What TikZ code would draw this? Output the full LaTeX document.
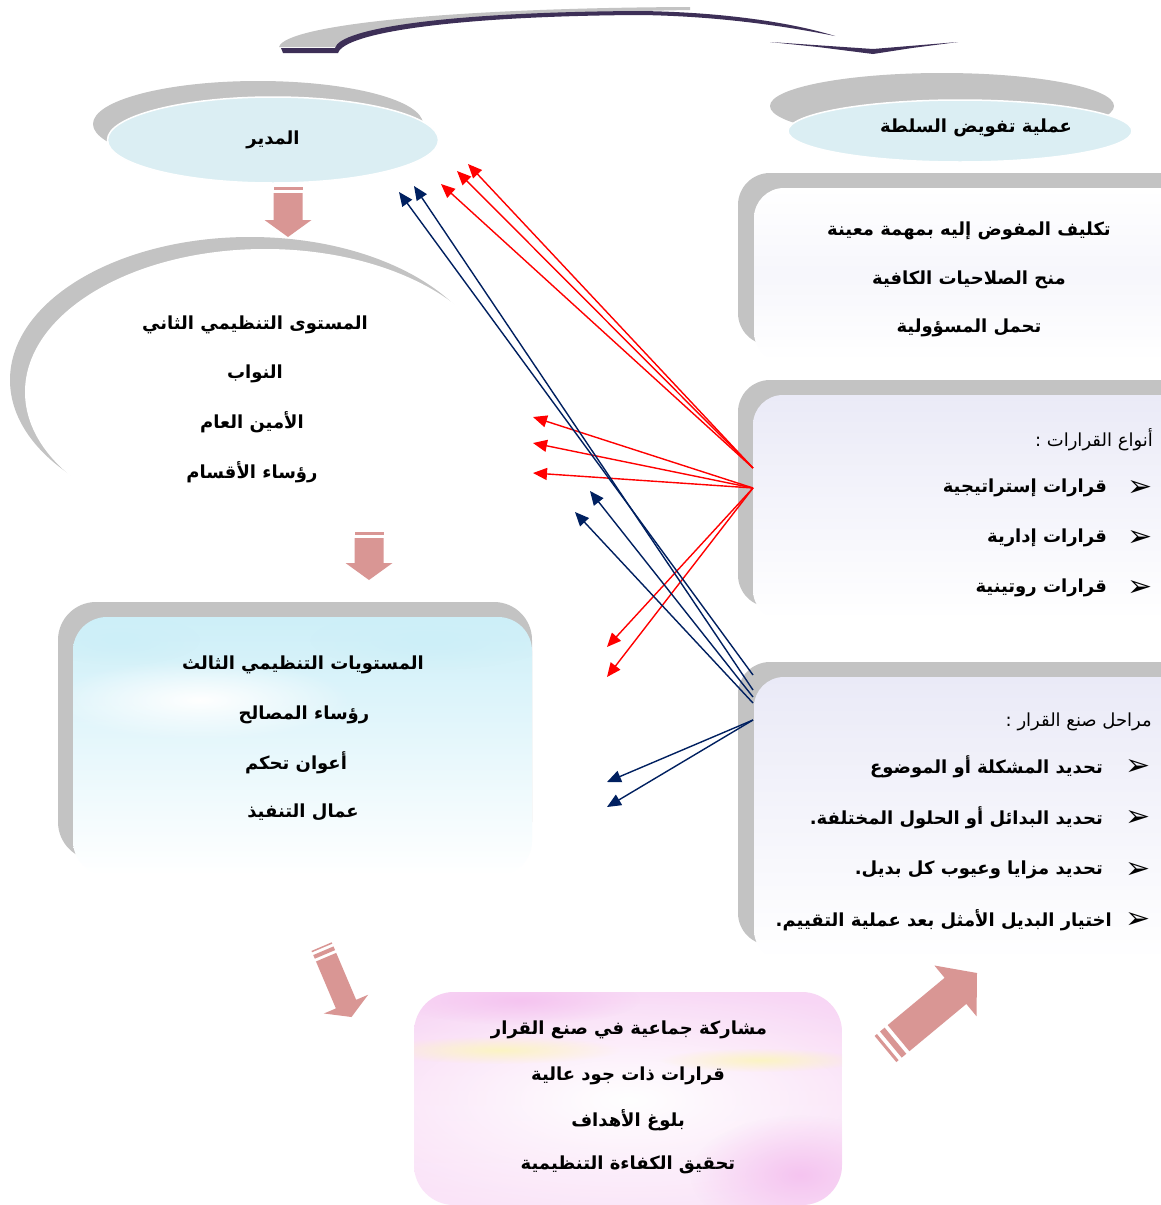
\documentclass[tikz,border=0pt]{standalone}
\usepackage{fontspec}
\usetikzlibrary{shapes.geometric,arrows.meta,fadings}
\TeXXeTstate=1
\newfontfamily\arfont[Script=Arabic]{DejaVu Sans}
\newfontfamily\symfont{DejaVu Sans}
\definecolor{ellblue}{HTML}{DBEEF3}
\definecolor{shgray}{HTML}{C3C3C3}
\definecolor{pinkarrow}{HTML}{D99694}
\definecolor{topdark}{HTML}{3D2F57}
\definecolor{navyc}{HTML}{002060}
\definecolor{lavtint}{HTML}{EAEAF7}
\definecolor{skytint}{HTML}{CDEFF8}
\definecolor{pinktint}{HTML}{F5C4F0}
\definecolor{yellowtint}{HTML}{FCF4C4}
\tikzfading[name=softblob, inner color=transparent!0, outer color=transparent!100]
\begin{document}
\begin{tikzpicture}[x=1pt,y=-1pt,
  txt/.style={font=\arfont\bfseries\fontsize{18pt}{21pt}\selectfont, inner sep=0pt},
  hd/.style={font=\arfont\fontsize{18pt}{21pt}\selectfont, inner sep=0pt, anchor=east},
  itm/.style={txt, anchor=east},
  bul/.style={font=\symfont\fontsize{30pt}{32pt}\selectfont, inner sep=0pt},
  redc/.style={draw=red, line width=1.4pt, -{Triangle[length=14pt,width=12pt]}},
  navc/.style={draw=navyc, line width=1.4pt, -{Triangle[length=14pt,width=12pt]}},
  blk/.style={fill=pinkarrow},
  shd/.style={fill=shgray},
]
\useasboundingbox (0,0) rectangle (1161,1205);
\fill[white] (0,0) rectangle (1161,1205);

% ---------- top curved arrow ----------
\fill[shgray] (279,47) .. controls (285,25) and (450,8) .. (690,7)
   -- (690,10) .. controls (460,14) and (345,26) .. (337,47) -- cycle;
\fill[topdark] (281,48) -- (335,48) .. controls (340,28) and (450,12) .. (640,11)
   .. controls (720,12) and (790,22) .. (835,36)
   .. controls (790,27) and (720,16) .. (640,15)
   .. controls (460,16) and (345,32) .. (338,53) -- (283,53) -- cycle;
\fill[topdark] (770,42) -- (873,49) -- (958,42) -- (912,48) -- (873,54) -- (818,47) -- cycle;

% ---------- ellipses ----------
\fill[shd] (258,124) ellipse [x radius=165, y radius=43];
\node[ellipse, fill=ellblue, draw=white, line width=1.5pt, minimum width=331pt,
      minimum height=86pt, txt] (mudir) at (273,140) {\beginR المدير\endR};

\fill[shd] (942,106) ellipse [x radius=172, y radius=33];
\node[ellipse, fill=ellblue, draw=white, line width=1.5pt, minimum width=344pt,
      minimum height=62pt, txt] (tafwid) at (960,131) {};
\node[txt] (tafwidtxt) at (976,128) {\beginR عملية تفويض السلطة\endR};

% ---------- second level crescent ----------
\fill[shd] (250,380) ellipse [x radius=240, y radius=143];
\fill[white] (265,392) ellipse [x radius=240, y radius=143];
\node[txt] (l2a) at (255,325) {\beginR المستوى التنظيمي الثاني\endR};
\node[txt] (l2b) at (255,374) {\beginR النواب\endR};
\node[txt] (l2c) at (252,422) {\beginR الأمين العام\endR};
\node[txt] (l2d) at (252,472) {\beginR رؤساء الأقسام\endR};

% ---------- right box 1 ----------
\fill[shd, rounded corners=32pt] (738,173) rectangle (1200,345);
\shade[top color=white, bottom color=white, middle color=lavtint!40, rounded corners=30pt] (754,188) rectangle (1200,362);
\node[txt] (d1) at (969,231) {\beginR تكليف المفوض إليه بمهمة معينة\endR};
\node[txt] (d2) at (969,280) {\beginR منح الصلاحيات الكافية\endR};
\node[txt] (d3) at (969,328) {\beginR تحمل المسؤولية\endR};

% ---------- right box 2 ----------
\fill[shd, rounded corners=32pt] (738,380) rectangle (1200,607);
\shade[top color=lavtint, bottom color=white, rounded corners=30pt] (753,395) rectangle (1200,620);
\node[hd] (t0) at (1153,440) {\beginR أنواع القرارات :\endR};
\node[itm] (t1) at (1107,488) {\beginR قرارات إستراتيجية\endR};
\node[itm] (t2) at (1107,538) {\beginR قرارات إدارية\endR};
\node[itm] (t3) at (1107,588) {\beginR قرارات روتينية\endR};
\node[bul] (tb1) at (1140,488) {➢};
\node[bul] (tb2) at (1140,538) {➢};
\node[bul] (tb3) at (1140,588) {➢};

% ---------- right box 3 ----------
\fill[shd, rounded corners=32pt] (738,662) rectangle (1200,945);
\shade[top color=lavtint, bottom color=white, rounded corners=30pt] (754,677) rectangle (1200,960);
\node[hd] (s0) at (1152,722) {\beginR مراحل صنع القرار :\endR};
\node[itm] (s1) at (1103,767) {\beginR تحديد المشكلة أو الموضوع\endR};
\node[itm] (s2) at (1103,818) {\beginR تحديد البدائل أو الحلول المختلفة.\endR};
\node[itm] (s3) at (1103,870) {\beginR تحديد مزايا وعيوب كل بديل.\endR};
\node[itm] (s4) at (1112,920) {\beginR اختيار البديل الأمثل بعد عملية التقييم.\endR};
\node[bul] (sb1) at (1138,767) {➢};
\node[bul] (sb2) at (1138,818) {➢};
\node[bul] (sb3) at (1138,870) {➢};
\node[bul] (sb4) at (1138,920) {➢};

% ---------- third level box ----------
\fill[shd, rounded corners=38pt] (58,602) rectangle (532,860);
\shade[top color=skytint, bottom color=white, rounded corners=34pt] (73,617) rectangle (532,875);
\begin{scope}
  \clip[rounded corners=34pt] (73,617) rectangle (532,875);
  \fill[white, path fading=softblob] (200,700) ellipse [x radius=150, y radius=40];
  \fill[skytint, path fading=softblob] (430,640) ellipse [x radius=120, y radius=30];
  \fill[skytint, path fading=softblob] (120,640) ellipse [x radius=80, y radius=25];
\end{scope}
\node[txt] (l3a) at (303,665) {\beginR المستويات التنظيمي الثالث\endR};
\node[txt] (l3b) at (304,715) {\beginR رؤساء المصالح\endR};
\node[txt] (l3c) at (296,763) {\beginR أعوان تحكم\endR};
\node[txt] (l3d) at (303,812) {\beginR عمال التنفيذ\endR};

% ---------- results box ----------
\begin{scope}
  \clip[rounded corners=40pt] (414,992) -- (842,992) -- (842,1205) -- (414,1205) -- cycle;
  \fill[white] (414,992) rectangle (842,1205);
  \shade[top color=pinktint!70, middle color=yellowtint!80, bottom color=pinktint!45] (414,992) rectangle (842,1205);
  \fill[white, path fading=softblob] (628,1100) ellipse [x radius=320, y radius=120];
  \fill[pinktint, path fading=softblob] (800,1175) ellipse [x radius=110, y radius=60];
  \fill[pinktint, path fading=softblob] (520,1000) ellipse [x radius=120, y radius=25];
  \fill[yellowtint, path fading=softblob] (500,1050) ellipse [x radius=120, y radius=14];
  \fill[yellowtint, path fading=softblob] (760,1060) ellipse [x radius=100, y radius=12];
\end{scope}
\node[txt] (r1) at (629,1030) {\beginR مشاركة جماعية في صنع القرار\endR};
\node[txt] (r2) at (628,1076) {\beginR قرارات ذات جود عالية\endR};
\node[txt] (r3) at (628,1120) {\beginR بلوغ الأهداف\endR};
\node[txt] (r4) at (628,1165) {\beginR تحقيق الكفاءة التنظيمية\endR};

% ---------- block arrows ----------
\begin{scope}[shift={(288,237)}, rotate=-90]
  \fill[blk] (0,0) -- (-17,23.5) -- (-17,14.5) -- (-44,14.5) -- (-44,-14.5) -- (-17,-14.5) -- (-17,-23.5) -- cycle;
  \fill[blk] (-47,14.5) rectangle (-50,-14.5);
\end{scope}
\begin{scope}[shift={(369,580)}, rotate=-90]
  \fill[blk] (0,0) -- (-17,23.5) -- (-17,14.5) -- (-42,14.5) -- (-42,-14.5) -- (-17,-14.5) -- (-17,-23.5) -- cycle;
  \fill[blk] (-45,14.5) rectangle (-48,-14.5);
\end{scope}
\begin{scope}[shift={(351.5,1017)}, rotate=-67]
  \fill[blk] (0,0) -- (-14,24) -- (-14,11) -- (-65,11) -- (-65,-11) -- (-14,-11) -- (-14,-24) -- cycle;
  \fill[blk] (-68,11) rectangle (-72,-11);
  \fill[blk] (-75,11) rectangle (-76.5,-11);
\end{scope}
\begin{scope}[shift={(977,973)}, rotate=39.7]
  \fill[blk] (0,0) -- (-28,33) -- (-28,17) -- (-102,17) -- (-102,-17) -- (-28,-17) -- (-28,-33) -- cycle;
  \fill[blk] (-106,17) rectangle (-112,-17);
  \fill[blk] (-116,17) rectangle (-119,-17);
\end{scope}

% ---------- connectors ----------
\coordinate (rA) at (753,468);
\coordinate (rB) at (753,488);
\coordinate (nA) at (753,675);
\coordinate (nB) at (753,690);
\coordinate (nC) at (753,697);
\coordinate (nD) at (753,703);
\coordinate (nE) at (753,720);
\coordinate (tm1) at (468,164);
\coordinate (tm2) at (457,171);
\coordinate (tm3) at (441,184);
\coordinate (tl1) at (533,417);
\coordinate (tl2) at (533,443);
\coordinate (tl3) at (533,473);
\coordinate (td1) at (607,647);
\coordinate (td2) at (607,677);
\coordinate (tn1) at (399,192);
\coordinate (tn2) at (414,186);
\coordinate (tn3) at (590,491);
\coordinate (tn4) at (575,512);
\coordinate (tn5) at (607,782);
\coordinate (tn6) at (607,807);

\draw[redc] (rA) -- (tm1);
\draw[redc] (rA) -- (tm2);
\draw[redc] (rA) -- (tm3);
\draw[redc] (rB) -- (tl1);
\draw[redc] (rB) -- (tl2);
\draw[redc] (rB) -- (tl3);
\draw[redc] (rB) -- (td1);
\draw[redc] (rB) -- (td2);
\draw[navc] (nA) -- (tn1);
\draw[navc] (nB) -- (tn2);
\draw[navc] (nC) -- (tn3);
\draw[navc] (nD) -- (tn4);
\draw[navc] (nE) -- (tn5);
\draw[navc] (nE) -- (tn6);
\end{tikzpicture}
\end{document}
